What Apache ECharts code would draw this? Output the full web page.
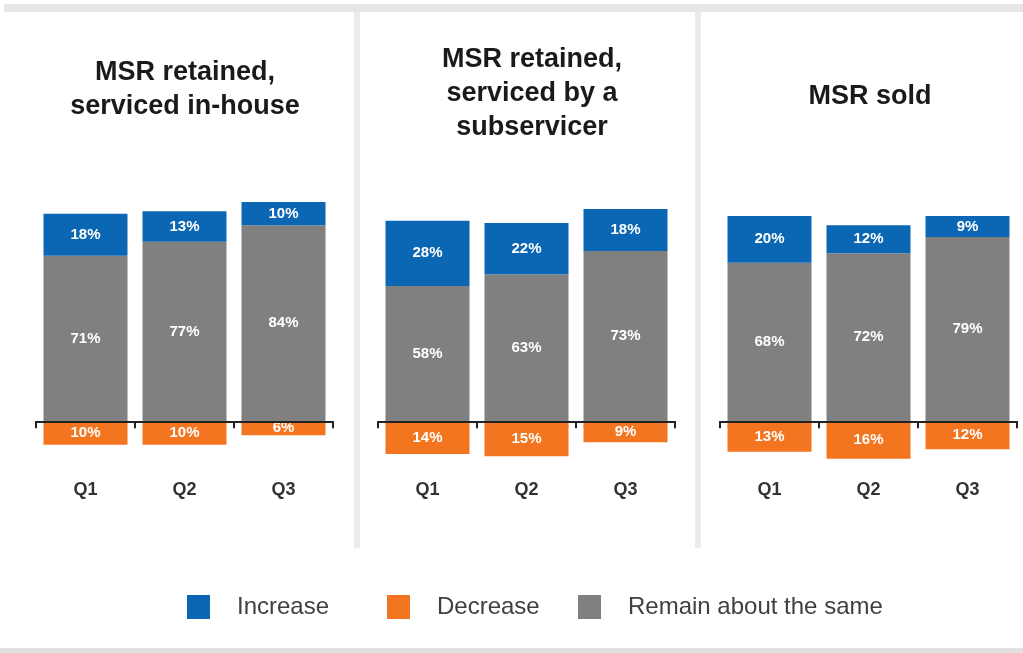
<!DOCTYPE html>
<html>
<head>
<meta charset="utf-8">
<script src="https://cdn.jsdelivr.net/npm/echarts@6/dist/echarts.min.js"></script>
<style>
  html, body { margin: 0; padding: 0; background: #fff; }
  #chart { width: 1023px; height: 653px; }
</style>
</head>
<body>
<div id="chart"></div>
<script>
// data
const categories = ["Q1", "Q2", "Q3"];
const panelTitles = [
  "MSR retained,\nserviced in-house",
  "MSR retained,\nserviced by a\nsubservicer",
  "MSR sold",
];
const increaseVals = [
  [18, 13, 10],
  [28, 22, 18],
  [20, 12, 9],
];
const remainVals = [
  [71, 77, 84],
  [58, 63, 73],
  [68, 72, 79],
];
const decreaseVals = [
  [10, 10, 6],
  [14, 15, 9],
  [13, 16, 12],
];

const BLUE = "#0b67b3";
const ORANGE = "#f47520";
const GRAY = "#808080";

// layout of the three panels
const gridLefts = [36, 378, 720];
const titleCenters = [185, 532, 870];
const titleTops = [56, 43, 80];

const chart = echarts.init(document.getElementById("chart"));

const grids = [];
const xAxes = [];
const yAxes = [];
const series = [];

const labelStyle = {
  show: true,
  position: "inside",
  color: "#fff",
  fontWeight: "bold",
  fontSize: 15,
  fontFamily: "Liberation Sans, Arial, sans-serif",
};

gridLefts.forEach((left, i) => {
  grids.push({ left: left, top: 188, width: 297, height: 280 });
  xAxes.push({
    type: "category",
    gridIndex: i,
    data: categories,
    z: 10,
    axisLine: { onZero: true, lineStyle: { color: "#222", width: 2 } },
    axisTick: { show: true, length: 7, lineStyle: { color: "#222", width: 2 } },
    axisLabel: {
      margin: 13,
      fontSize: 18,
      fontWeight: "bold",
      color: "#333",
      fontFamily: "Liberation Sans, Arial, sans-serif",
    },
  });
  yAxes.push({
    type: "value",
    gridIndex: i,
    min: -20,
    max: 100,
    show: false,
    splitLine: { show: false },
  });
  series.push(
    {
      name: "Remain about the same",
      type: "bar",
      xAxisIndex: i,
      yAxisIndex: i,
      stack: "s" + i,
      barWidth: 84,
      data: remainVals[i],
      itemStyle: { color: GRAY },
      label: Object.assign({}, labelStyle, { formatter: "{c}%" }),
    },
    {
      name: "Increase",
      type: "bar",
      xAxisIndex: i,
      yAxisIndex: i,
      stack: "s" + i,
      barWidth: 84,
      data: increaseVals[i],
      itemStyle: { color: BLUE },
      label: Object.assign({}, labelStyle, { formatter: "{c}%" }),
    },
    {
      name: "Decrease",
      type: "bar",
      xAxisIndex: i,
      yAxisIndex: i,
      stack: "s" + i,
      barWidth: 84,
      data: decreaseVals[i].map((v) => -v),
      itemStyle: { color: ORANGE },
      label: Object.assign({}, labelStyle, {
        formatter: (p) => Math.abs(p.value) + "%",
      }),
    }
  );
});

const legendBase = {
  top: 595,
  padding: 0,
  icon: "rect",
  itemWidth: 23,
  itemHeight: 24,
  selectedMode: false,
  textStyle: {
    fontSize: 24,
    color: "#404040",
    fontFamily: "Liberation Sans, Arial, sans-serif",
    padding: [0, 0, 0, 22],
  },
};

chart.setOption({
  animation: false,
  backgroundColor: "#fff",
  grid: grids,
  xAxis: xAxes,
  yAxis: yAxes,
  series: series,
  legend: [
    Object.assign({}, legendBase, { left: 187, data: ["Increase"] }),
    Object.assign({}, legendBase, { left: 387, data: ["Decrease"] }),
    Object.assign({}, legendBase, { left: 578, data: ["Remain about the same"] }),
  ],
  graphic: [
    // top band, separators, bottom rule
    { type: "rect", shape: { x: 4, y: 4, width: 1019, height: 8 }, style: { fill: "#e6e6e6" }, silent: true },
    { type: "rect", shape: { x: 354, y: 12, width: 6, height: 536 }, style: { fill: "#ebebeb" }, silent: true },
    { type: "rect", shape: { x: 695, y: 12, width: 6, height: 536 }, style: { fill: "#ebebeb" }, silent: true },
    { type: "rect", shape: { x: 0, y: 648, width: 1023, height: 5 }, style: { fill: "#e0e0e0" }, silent: true },
  ].concat(
    panelTitles.map((t, i) => ({
      type: "text",
      x: titleCenters[i],
      y: titleTops[i],
      silent: true,
      style: {
        text: t,
        fill: "#1a1a1a",
        font: "bold 27px 'Liberation Sans', Arial, sans-serif",
        lineHeight: 34,
        align: "center",
        verticalAlign: "top",
      },
    }))
  ),
});
</script>
</body>
</html>
